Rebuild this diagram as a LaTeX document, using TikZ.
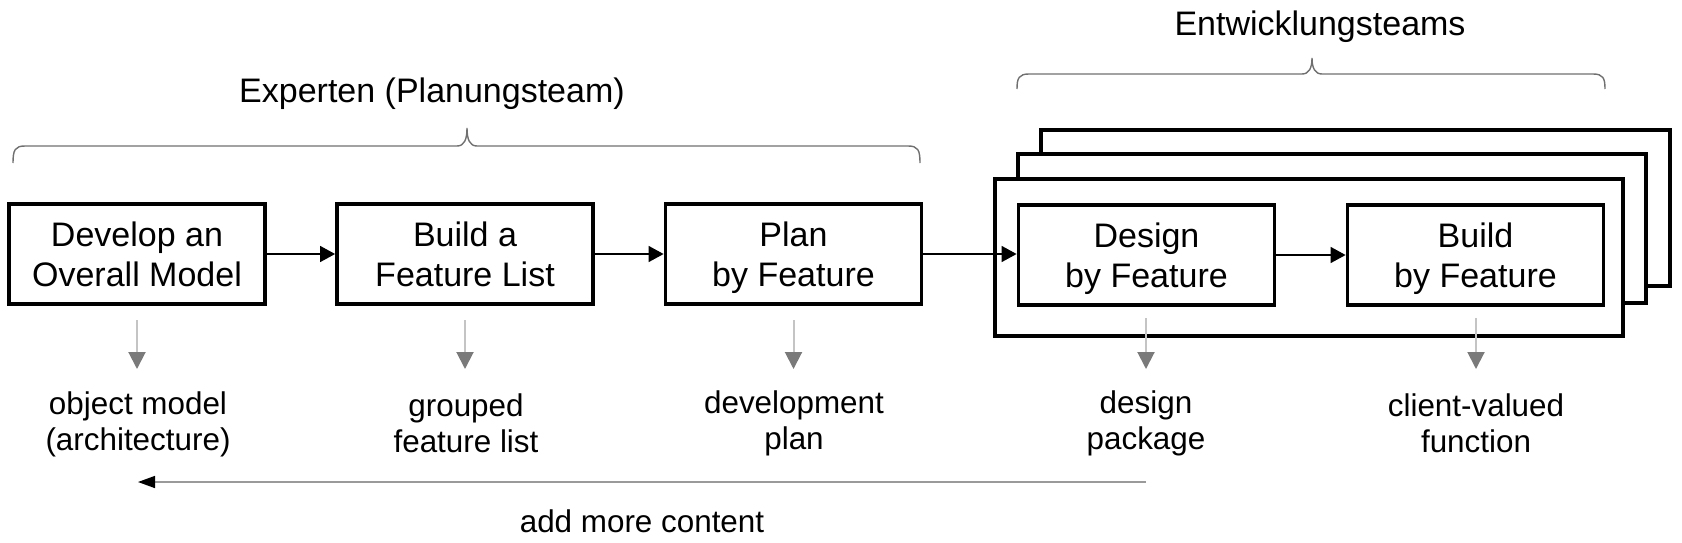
\documentclass[tikz,border=0pt]{standalone}
\usepackage{fontspec}
\setmainfont{Liberation Sans}
\usetikzlibrary{arrows.meta}
\definecolor{bracegray}{HTML}{707070}
\definecolor{outline}{HTML}{C4C4C4}
\definecolor{outhead}{HTML}{7A7A7A}
\definecolor{fbline}{HTML}{9A9A9A}
\tikzset{
  stepbox/.style={draw=black, line width=1.9pt, fill=white, minimum width=128pt, minimum height=50pt,
    inner sep=0pt, align=center, text depth=0pt, font=\fontsize{17}{20}\selectfont},
  teamframe/.style={draw=black, line width=1.85pt, fill=white},
  lab/.style={align=center, inner sep=0pt, font=\fontsize{15.7}{18}\selectfont},
  ttl/.style={inner sep=0pt, anchor=base, font=\fontsize{17}{20}\selectfont},
  flow/.style={line width=0.7pt, -{Triangle[length=7.5pt,width=8pt]}},
  outarrow/.style={draw=outline, line width=1pt, shorten <=7pt,
    -{Triangle[length=8.5pt,width=8.5pt,color=outhead]}},
  fb/.style={draw=fbline, line width=0.75pt, -{Triangle[length=8.5pt,width=6pt,color=black]}},
  bracestyle/.style={draw=bracegray, line width=0.7pt}
}
\begin{document}
\begin{tikzpicture}[x=0.5pt,y=-0.5pt]
\useasboundingbox (0,0) rectangle (1682,542);
% titles and braces
\node[ttl] (t1) at (432,102) {Experten (Planungsteam)};
\node[ttl] (t2) at (1320,35) {Entwicklungsteams};
\draw[bracestyle] (13,163) .. controls (13,150) and (15,146) .. (25,146) -- (457,146)
  .. controls (464,146) and (467,140) .. (467,128) .. controls (467,140) and (470,146) .. (477,146)
  -- (908,146) .. controls (918,146) and (920,150) .. (920,163);
\draw[bracestyle] (1017,89) .. controls (1017,78) and (1019,74) .. (1029,74) -- (1302,74)
  .. controls (1309,74) and (1312,68) .. (1312,58) .. controls (1312,68) and (1315,74) .. (1322,74)
  -- (1593,74) .. controls (1603,74) and (1605,78) .. (1605,89);
% team frames
\draw[teamframe] (1041,130) rectangle (1670,286);
\draw[teamframe] (1018,154) rectangle (1646,303);
\draw[teamframe] (995,179) rectangle (1623,336);
% steps
\node[stepbox] (b1) at (137,254) {Develop an\\Overall Model};
\node[stepbox] (b2) at (465,254) {Build a\\Feature List};
\node[stepbox] (b3) at (793.5,254) {Plan\\by Feature};
\node[stepbox] (b4) at (1146.5,255) {Design\\by Feature};
\node[stepbox] (b5) at (1475.5,255) {Build\\by Feature};
% outputs
\node[lab] (l1) at (138,424) {object model\\(architecture)};
\node[lab] (l2) at (466,423) {grouped\\feature list};
\node[lab] (l3) at (794,423) {development\\plan};
\node[lab] (l4) at (1146,423) {design\\package};
\node[lab] (l5) at (1476,423) {client-valued\\function};
\node[ttl, font=\fontsize{15.7}{18}\selectfont] (fbt) at (642,532) {add more content};
% flow arrows
\draw[flow] (b1) -- (b2);
\draw[flow] (b2) -- (b3);
\draw[flow] (b3.east) -- (b4.west |- b3.east);
\draw[flow] (b4) -- (b5);
% output arrows
\coordinate (outend) at (0,369);
\draw[outarrow] (b1.south) -- (b1.south |- outend);
\draw[outarrow] (b2.south) -- (b2.south |- outend);
\draw[outarrow] (b3.south) -- (b3.south |- outend);
\draw[outarrow, shorten <=5.5pt] (b4.south -| l4) -- (l4 |- outend);
\draw[outarrow, shorten <=5.5pt] (b5.south -| l5) -- (l5 |- outend);
% feedback
\coordinate (fbrow) at (0,482);
\draw[fb] (l4 |- fbrow) -- (l1 |- fbrow);
\end{tikzpicture}
\end{document}
